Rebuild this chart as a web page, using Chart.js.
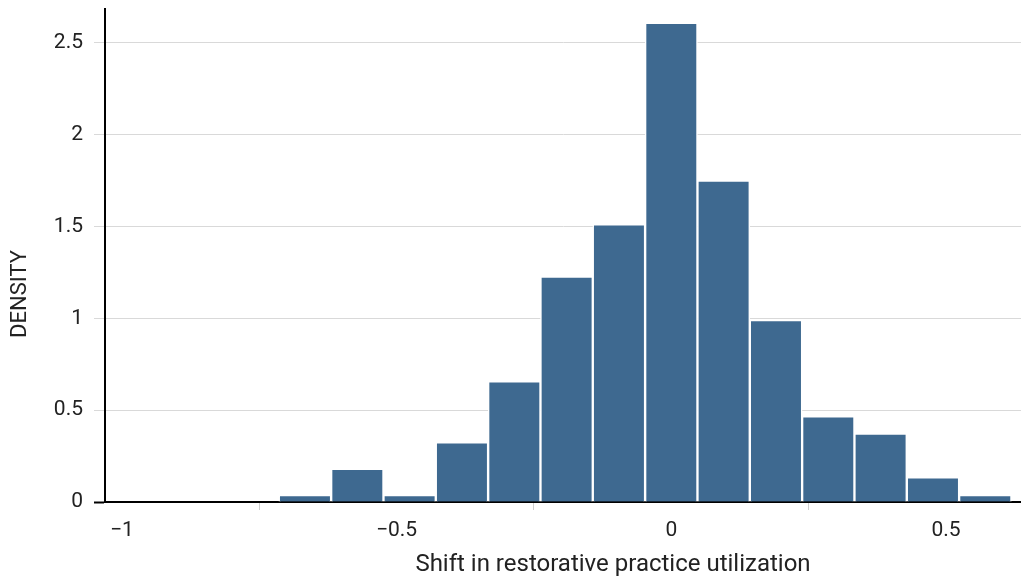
<!DOCTYPE html>
<html>
<head>
<meta charset="utf-8">
<script src="https://cdn.jsdelivr.net/npm/chart.js@4/dist/chart.umd.min.js"></script>
<style>
  html, body { margin: 0; padding: 0; background: #fff; }
  #wrap { width: 1021px; height: 581px; }
</style>
</head>
<body>
<div id="wrap"><canvas id="histChart" width="1021" height="581"></canvas></div>
<script>
  // bin lower edges (width 2/21) and density per bin
  const binStarts = [-1, -0.9048, -0.8095, -0.7143, -0.6190, -0.5238, -0.4286, -0.3333, -0.2381,
    -0.1429, -0.0476, 0.0476, 0.1429, 0.2381, 0.3333, 0.4286, 0.5238];
  const binWidth = 0.0952;
  const density = [0, 0, 0, 0.038, 0.181, 0.038, 0.325, 0.657, 1.227,
    1.512, 2.609, 1.75, 0.99, 0.467, 0.372, 0.134, 0.038];
  const xTicks = [-1, -0.5, 0, 0.5];
  const yTicks = [0, 0.5, 1, 1.5, 2, 2.5];
  const xTitle = "Shift in restorative practice utilization";
  const yTitle = "DENSITY";

  const fontFamily = "Roboto, 'Noto Sans', sans-serif";
  const fmt = v => String(v).replace("-", "\u2212");

  const points = binStarts.map((b, i) => ({ x: b + binWidth / 2, y: density[i] }));

  // axis titles sit off-centre in the original, so draw them by hand
  const axisTitles = {
    id: "axisTitles",
    afterDraw(chart) {
      const ctx = chart.ctx;
      ctx.save();
      ctx.fillStyle = "#222";
      ctx.textAlign = "center";
      ctx.textBaseline = "middle";
      ctx.font = `24px ${fontFamily}`;
      ctx.fillText(xTitle, 613, 565);
      ctx.translate(20, 294);
      ctx.rotate(-Math.PI / 2);
      ctx.font = `22px ${fontFamily}`;
      ctx.fillText(yTitle, 0, 0);
      ctx.restore();
    }
  };

  new Chart(histChart, {
    type: "bar",
    data: {
      datasets: [{
        label: "Density",
        data: points,
        backgroundColor: "#3e6990",
        borderColor: "#ffffff",
        borderWidth: 1.5,
        barPercentage: 1,
        categoryPercentage: 1
      }]
    },
    plugins: [axisTitles],
    options: {
      responsive: false,
      animation: false,
      layout: { padding: { top: 9, right: 0, left: 0, bottom: 0 } },
      plugins: { legend: { display: false }, tooltip: { enabled: false } },
      scales: {
        x: {
          type: "linear",
          min: -1.0306,
          max: 0.6364,
          offset: false,
          afterBuildTicks: s => { s.ticks = xTicks.map(v => ({ value: v })); },
          afterFit: s => { s.height = 79; s.paddingLeft = 0; s.paddingRight = 0; },
          ticks: {
            includeBounds: false,
            padding: 8,
            color: "#222",
            font: { family: fontFamily, size: 21 },
            callback: v => fmt(v)
          },
          grid: {
            drawOnChartArea: false,
            drawTicks: true,
            tickLength: 8,
            tickWidth: c => (c.tick && c.tick.value === -1 ? 2 : 1),
            tickColor: c => (c.tick && c.tick.value === -1 ? "#000" : "#cfcfcf")
          },
          border: { display: true, color: "#000", width: 2 },
          title: { display: false }
        },
        y: {
          min: 0,
          max: 2.684,
          afterBuildTicks: s => { s.ticks = yTicks.map(v => ({ value: v })); },
          afterFit: s => { s.width = 105; s.paddingTop = 0; s.paddingBottom = 0; },
          ticks: {
            includeBounds: false,
            padding: 11,
            color: "#222",
            font: { family: fontFamily, size: 21 },
            callback: v => fmt(v)
          },
          grid: {
            color: "#d9d9d9",
            lineWidth: 1,
            tickLength: 11,
            tickWidth: c => (c.tick && c.tick.value === 0 ? 2 : 1),
            tickColor: c => (c.tick && c.tick.value === 0 ? "#000" : "#d9d9d9")
          },
          border: { display: true, color: "#000", width: 2 },
          title: { display: false }
        }
      }
    }
  });
</script>
</body>
</html>
